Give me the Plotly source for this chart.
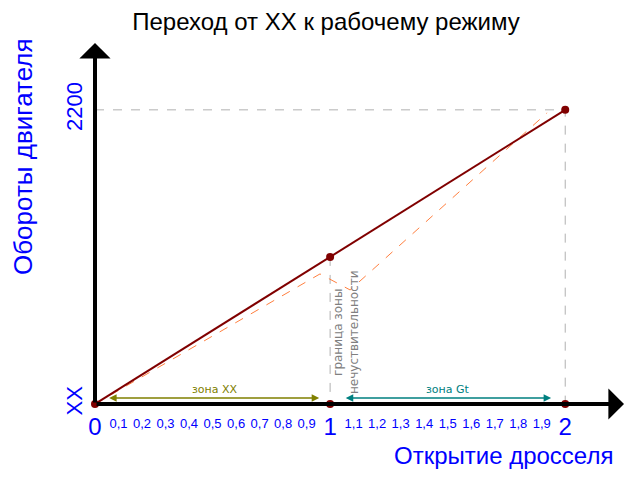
import plotly.graph_objects as go

# Данные графика
throttle = [0, 1, 2]                      # открытие дросселя
rpm = [0, 1100, 2200]                     # обороты (XX -> 2200)
real_throttle = [0, 0.957, 1.085, 1.923]  # реальная кривая (пунктир)
real_rpm = [0, 973, 853, 2178]
axis_dots_x = [1, 2]                      # точки на оси X
axis_dots_y = [0, 0]

big_ticks = [0, 1, 2]
big_labels = ["0", "1", "2"]
small_ticks = [0.1, 0.2, 0.3, 0.4, 0.5, 0.6, 0.7, 0.8, 0.9,
               1.1, 1.2, 1.3, 1.4, 1.5, 1.6, 1.7, 1.8, 1.9]
small_labels = ["0,1", "0,2", "0,3", "0,4", "0,5", "0,6", "0,7", "0,8", "0,9",
                "1,1", "1,2", "1,3", "1,4", "1,5", "1,6", "1,7", "1,8", "1,9"]
y_ticks = [0, 2200]
y_labels = ["XX", "2200"]

DARKRED = "#800000"
BLUE = "#0000FF"
GRAY = "#B0B0B0"

fig = go.Figure()

# вспомогательные пунктирные линии
fig.add_trace(go.Scatter(x=[throttle[0], throttle[2], throttle[2]], y=[rpm[2], rpm[2], 0],
                         mode="lines", line=dict(color=GRAY, width=1, dash="dash"),
                         cliponaxis=False, hoverinfo="skip"))
fig.add_trace(go.Scatter(x=[throttle[1], throttle[1]], y=[rpm[1], 0],
                         mode="lines", line=dict(color=GRAY, width=1, dash="dash"),
                         cliponaxis=False, hoverinfo="skip"))

# реальная кривая
fig.add_trace(go.Scatter(x=real_throttle, y=real_rpm, mode="lines",
                         line=dict(color="#FF7F3F", width=1, dash="dash"),
                         cliponaxis=False))

# идеальная прямая
fig.add_trace(go.Scatter(x=throttle, y=rpm, mode="lines+markers",
                         line=dict(color=DARKRED, width=2),
                         marker=dict(color=DARKRED, size=8),
                         cliponaxis=False))
fig.add_trace(go.Scatter(x=axis_dots_x, y=axis_dots_y, mode="markers",
                         marker=dict(color=DARKRED, size=8), cliponaxis=False))

# невидимая трасса для второй оси X (мелкие подписи)
fig.add_trace(go.Scatter(x=[0], y=[0], xaxis="x2", mode="markers",
                         marker=dict(opacity=0), hoverinfo="skip"))

annotations = [
    # оси со стрелками
    dict(x=2.25, y=0, ax=0, ay=0, xref="x", yref="y", axref="x", ayref="y",
         text="", showarrow=True, arrowhead=1, arrowwidth=4, arrowsize=1.3,
         arrowcolor="black"),
    dict(x=0, y=2700, ax=0, ay=0, xref="x", yref="y", axref="x", ayref="y",
         text="", showarrow=True, arrowhead=1, arrowwidth=4, arrowsize=1.3,
         arrowcolor="black"),
    # зона XX
    dict(x=0.06, y=45, ax=0.96, ay=45, xref="x", yref="y", axref="x", ayref="y",
         text="", showarrow=True, arrowhead=2, arrowside="end+start",
         arrowwidth=1.5, arrowsize=1, arrowcolor="#808000"),
    dict(x=0.51, y=45, xref="x", yref="y", text="зона XX", showarrow=False,
         yanchor="bottom", font=dict(family="DejaVu Sans", size=11, color="#808000")),
    # зона Gt
    dict(x=1.94, y=45, ax=1.06, ay=45, xref="x", yref="y", axref="x", ayref="y",
         text="", showarrow=True, arrowhead=2, arrowside="end+start",
         arrowwidth=1.5, arrowsize=1, arrowcolor="#008080"),
    dict(x=1.5, y=45, xref="x", yref="y", text="зона Gt", showarrow=False,
         yanchor="bottom", font=dict(family="DejaVu Sans", size=11, color="#008080")),
    # граница зоны
    dict(x=1.068, y=539, xref="x", yref="y", text="граница зоны<br>нечуствительности",
         textangle=-90, showarrow=False, align="center", xanchor="center", yanchor="middle",
         font=dict(family="DejaVu Sans", size=12, color="#808080")),
    # подписи осей
    dict(x=23, y=157, xref="paper", yref="paper", text="Обороты двигателя",
         textangle=-90, showarrow=False, xanchor="center", yanchor="middle",
         font=dict(family="Liberation Sans", size=26, color=BLUE)),
    dict(x=503, y=455, xref="paper", yref="paper", text="Открытие дросселя",
         showarrow=False, xanchor="center", yanchor="middle",
         font=dict(family="Liberation Sans", size=24, color=BLUE)),
]

# пересчёт пиксельных координат подписей осей в доли
W, H, L, R, T, B = 640, 480, 95, 16, 43, 76
for a in annotations[-2:]:
    a["x"] = (a["x"] - L) / (W - L - R)
    a["y"] = ((H - B) - a["y"]) / (H - T - B)

fig.update_layout(
    width=W, height=H,
    margin=dict(l=L, r=R, t=T, b=B),
    plot_bgcolor="white", paper_bgcolor="white",
    showlegend=False,
    title=dict(text="Переход от ХХ к рабочему режиму", x=326 / W, xanchor="center",
               y=1 - 22 / H, yanchor="middle", xref="container", yref="container",
               font=dict(family="Liberation Sans", size=24, color="black")),
    xaxis=dict(range=[0, 2.25], showgrid=False, zeroline=False, showline=False,
               tickvals=big_ticks, ticktext=big_labels, ticks="outside",
               ticklen=1, tickcolor="rgba(0,0,0,0)",
               tickfont=dict(family="Liberation Sans", size=24, color=BLUE)),
    xaxis2=dict(range=[0, 2.25], overlaying="x", side="bottom", anchor="y",
                showgrid=False, zeroline=False, showline=False,
                tickvals=small_ticks, ticktext=small_labels, ticks="outside",
                ticklen=7, tickcolor="rgba(0,0,0,0)",
                tickfont=dict(family="Liberation Sans", size=13, color=BLUE)),
    yaxis=dict(range=[0, 2700], showgrid=False, zeroline=False, showline=False,
               tickvals=y_ticks, ticktext=y_labels, tickangle=-90, ticks="outside",
               ticklen=3, tickcolor="rgba(0,0,0,0)",
               tickfont=dict(family="Liberation Sans", size=22, color=BLUE)),
    annotations=annotations,
)

fig.write_html("out.html", config={"displayModeBar": False},
               post_script="document.body.style.margin='0';")
